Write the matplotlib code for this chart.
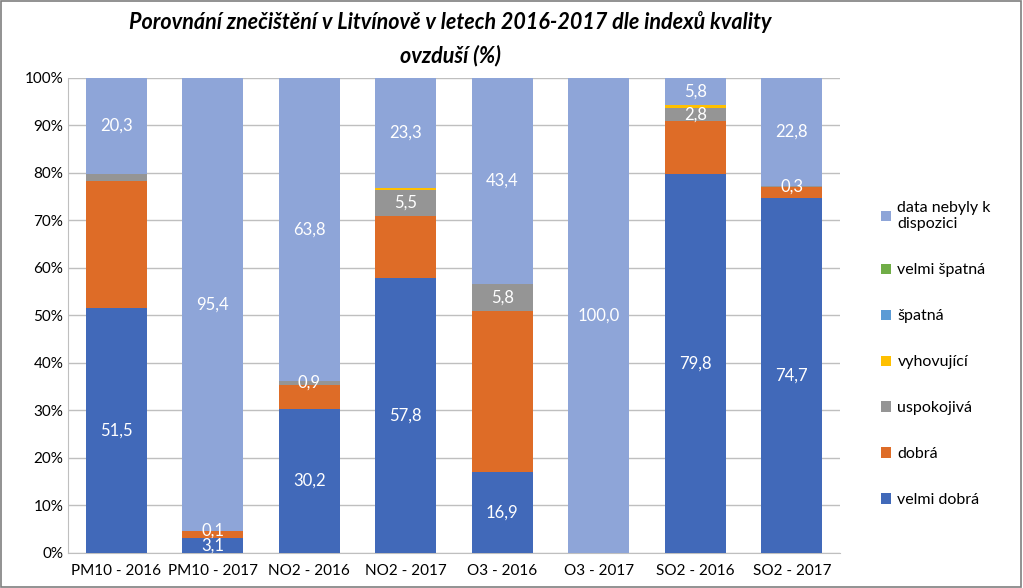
import numpy as np
import matplotlib
matplotlib.use('Agg')
from matplotlib import pyplot as plt
from matplotlib.patches import Rectangle
from matplotlib.ticker import FuncFormatter

plt.rcParams['font.family'] = ['Lato', 'DejaVu Sans']

# data
kategorie = ['PM10 - 2016', 'PM10 - 2017', 'NO2 - 2016', 'NO2 - 2017',
             'O3 - 2016', 'O3 - 2017', 'SO2 - 2016', 'SO2 - 2017']
velmi_dobra = [51.5, 3.1, 30.2, 57.8, 16.9, 0.0, 79.8, 74.7]
dobra = [26.7, 1.4, 5.1, 13.1, 33.9, 0.0, 11.1, 2.2]
uspokojiva = [1.5, 0.1, 0.9, 5.5, 5.8, 0.0, 2.8, 0.3]
vyhovujici = [0.0, 0.0, 0.0, 0.3, 0.0, 0.0, 0.5, 0.0]
spatna = [0.0, 0.0, 0.0, 0.0, 0.0, 0.0, 0.0, 0.0]
velmi_spatna = [0.0, 0.0, 0.0, 0.0, 0.0, 0.0, 0.0, 0.0]
nedostupna = [20.3, 95.4, 63.8, 23.3, 43.4, 100.0, 5.8, 22.8]

# popisky ktere jsou v grafu videt
popisky_vd = ['51,5', '3,1', '30,2', '57,8', '16,9', '', '79,8', '74,7']
popisky_usp = ['', '0,1', '0,9', '5,5', '5,8', '', '2,8', '0,3']
popisky_nd = ['20,3', '95,4', '63,8', '23,3', '43,4', '100,0', '5,8', '22,8']

serie = [
    ('velmi dobrá', velmi_dobra, '#4169B9'),
    ('dobrá', dobra, '#DE6C27'),
    ('uspokojivá', uspokojiva, '#959595'),
    ('vyhovující', vyhovujici, '#FFC000'),
    ('špatná', spatna, '#5B9BD5'),
    ('velmi špatná', velmi_spatna, '#70AD47'),
    ('data nebyly k\ndispozici', nedostupna, '#8EA5D8'),
]

fig = plt.figure(figsize=(10.23, 5.88), dpi=100)
ax = fig.add_axes([0.0665, 0.06, 0.7547, 0.808])

x = np.arange(len(kategorie))
bottom = np.zeros(len(kategorie))
containers = {}
for name, vals, col in serie:
    c = ax.bar(x, vals, 0.63, bottom=bottom, color=col, label=name, zorder=3)
    containers[name] = c
    bottom += np.array(vals)

lab_kw = dict(label_type='center', color='white', fontsize=12)
ax.bar_label(containers['velmi dobrá'], labels=popisky_vd, **lab_kw)
ax.bar_label(containers['uspokojivá'], labels=popisky_usp, **lab_kw)
ax.bar_label(containers['data nebyly k\ndispozici'], labels=popisky_nd, **lab_kw)

ax.set_ylim(0, 100)
ax.set_xlim(-0.5, len(kategorie) - 0.5)
ax.set_yticks(np.arange(0, 101, 10))
ax.yaxis.set_major_formatter(FuncFormatter(lambda v, p: '%d%%' % v))
ax.set_xticks(x)
ax.set_xticklabels(kategorie)
ax.tick_params(axis='both', length=0, labelsize=11, colors='#000000')
ax.tick_params(axis='x', pad=8)
ax.grid(axis='y', color='#BFBFBF', linewidth=1, zorder=0)
for s in ['top', 'right']:
    ax.spines[s].set_visible(False)
for s in ['left', 'bottom']:
    ax.spines[s].set_color('#BFBFBF')

fig.text(0.44, 0.962, 'Porovnání znečištění v Litvínově v letech 2016-2017 dle indexů kvality',
         ha='center', va='center', fontsize=15.5, fontweight='bold', style='italic')
fig.text(0.44, 0.905, 'ovzduší (%)', ha='center', va='center', fontsize=15.5,
         fontweight='bold', style='italic')

h, l = ax.get_legend_handles_labels()
leg = ax.legend(h[::-1], l[::-1], loc='center left', bbox_to_anchor=(1.035, 0.418),
                frameon=False, fontsize=11.5, handlelength=0.6, handleheight=0.6,
                handletextpad=0.4, labelspacing=2.0)

fig.patches.append(Rectangle((0.001, 0.001), 0.997, 0.997, transform=fig.transFigure,
                             fill=False, edgecolor='#7F7F7F', linewidth=1.2))

plt.savefig('out.png', dpi=100)
